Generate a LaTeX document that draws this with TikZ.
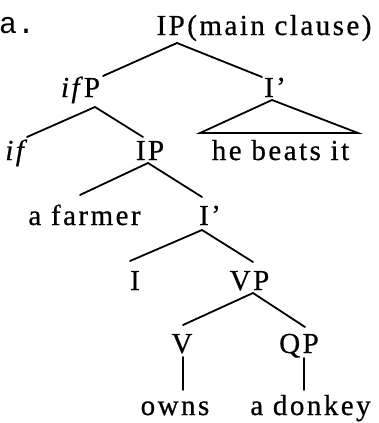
\documentclass[tikz,border=0pt]{standalone}
\usepackage{fontspec}
\setmainfont{Liberation Serif}[LetterSpace=8.5,FakeBold=0.6]
\newfontfamily\labelfont{Liberation Mono}
\usetikzlibrary{calc}
\begin{document}
\begin{tikzpicture}[x=1pt,y=-1pt,
  lab/.style={anchor=base,inner sep=0pt,font=\fontsize{29}{32}\selectfont},
  edge/.style={line width=1.8pt,line cap=round,line join=miter}]
\useasboundingbox[fill=white] (0,0) rectangle (378,423);
% example label
\node[anchor=base west,inner sep=0pt,font=\fontsize{30}{32}\labelfont] (ex) at (-1,33) {a.};
% nodes
\node[lab] (root) at (264,35) {IP(main clause)};
\node[lab] (ifP) at (80.5,97) {\textit{if}\kern-1.5pt P};
\node[lab] (Ib1) at (275,97) {I’};
\node[lab] (if) at (17.5,160) {\textit{if}};
\node[lab] (IP2) at (150,160) {IP};
\node[lab] (hbi) at (280.5,160) {he beats it};
\node[lab] (farmer) at (84.5,225) {a farmer};
\node[lab] (Ib2) at (210,225) {I’};
\node[lab] (I) at (135,290) {I};
\node[lab] (VP) at (249.5,290) {VP};
\node[lab] (V) at (182,353) {V};
\node[lab] (QP) at (299,353) {QP};
\node[lab] (owns) at (175,415) {owns};
\node[lab] (donkey) at (310.5,415) {a donkey};
% connectors
\draw[edge] ($(root.base)+(-87,8)$) -- ($(ifP.base)+(22.5,-21)$);
\draw[edge] ($(root.base)+(-87,8)$) -- ($(Ib1.base)+(-13,-20)$);
\draw[edge] ($(ifP.base)+(14.5,10)$) -- ($(if.base)+(9.5,-23)$);
\draw[edge] ($(ifP.base)+(14.5,10)$) -- ($(IP2.base)+(-7,-23)$);
\draw[edge] ($(Ib1.base)+(-3,3)$) -- ($(hbi.base)+(-80.5,-27)$) -- ($(hbi.base)+(77.5,-27)$) -- cycle;
\draw[edge] ($(IP2.base)+(-2,3)$) -- ($(farmer.base)+(-4.5,-30)$);
\draw[edge] ($(IP2.base)+(-2,3)$) -- ($(Ib2.base)+(-8,-28)$);
\draw[edge] ($(Ib2.base)+(-8,5)$) -- ($(I.base)+(-5,-29)$);
\draw[edge] ($(Ib2.base)+(-8,5)$) -- ($(VP.base)+(3.5,-28)$);
\draw[edge] ($(VP.base)+(3.5,3)$) -- ($(V.base)+(1,-28)$);
\draw[edge] ($(VP.base)+(3.5,3)$) -- ($(QP.base)+(6,-26)$);
\draw[edge] ($(V.base)+(1,4)$) -- ($(owns.base)+(8,-25)$);
\draw[edge] ($(QP.base)+(5,5)$) -- ($(donkey.base)+(-6.5,-25)$);
\end{tikzpicture}
\end{document}
